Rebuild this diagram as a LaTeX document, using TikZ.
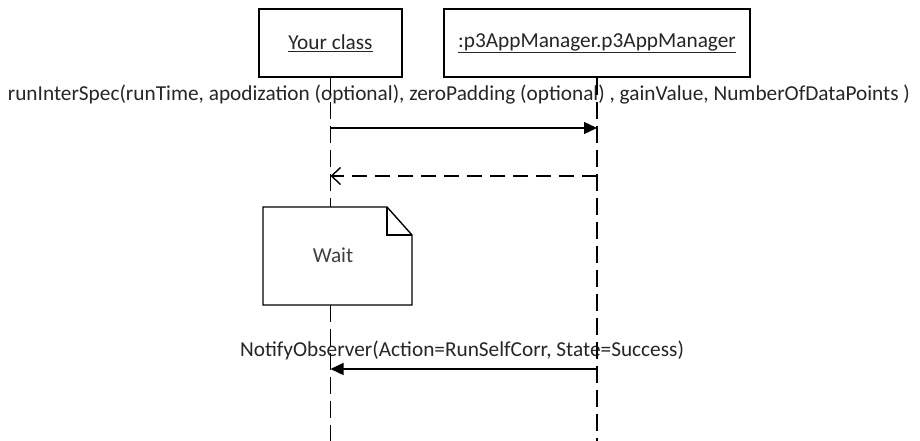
\documentclass[tikz,border=0pt]{standalone}
\usepackage{fontspec}
\setmainfont{Carlito}
\usetikzlibrary{arrows.meta}
\tikzset{
  objbox/.style={draw, line width=1.4pt, minimum width=143pt, minimum height=68pt, inner sep=0pt},
  lifeline/.style={line width=1.6pt, dash pattern=on 17pt off 7pt},
  callmsg/.style={line width=1.4pt, -{Triangle[length=13pt,width=12pt]}},
  retmsg/.style={line width=1.4pt, dash pattern=on 15pt off 8pt, -{Straight Barb[length=9pt,width=17pt,line width=1.4pt]}},
  msglabel/.style={text=black!85, inner sep=0pt},
  notebox/.style={line width=1.4pt, fill=white}
}
\begin{document}
\begin{tikzpicture}[x=1pt,y=-1pt, font=\fontsize{21.3}{25}\selectfont]
\useasboundingbox (0,0) rectangle (920,441);
\fill[white] (0,0) rectangle (920,441);
% objects
\node[objbox] (yc) at (330.5,43) {\textcolor{black!85}{\underline{Your class}}};
\node[objbox, minimum width=306pt] (pm) at (597,43) {\textcolor{black!85}{\underline{:p3AppManager.p3AppManager}}};
% lifeline end points
\coordinate (ycend) at (yc.south |- 0,441);
\coordinate (pmend) at (pm.south |- 0,441);
% note
\coordinate (n1) at (263,207);
\coordinate (n2) at (387,207);
\coordinate (n3) at (412,235);
\coordinate (n4) at (412,305);
\coordinate (n5) at (263,305);
\coordinate (nf) at (387,235);
\coordinate (ntop) at (yc.south |- 0,207);
\coordinate (nbot) at (yc.south |- 0,305);
% message labels
\node[msglabel] (m1) at (459,95) {runInterSpec(runTime, apodization (optional), zeroPadding (optional) , gainValue, NumberOfDataPoints )};
\node[msglabel] (m3) at (462,350) {NotifyObserver(Action=RunSelfCorr, State=Success)};
% lifelines
\draw[lifeline] (yc.south) -- (ntop);
\draw[lifeline] (nbot) -- (ycend);
\draw[lifeline] (pm.south) -- (pmend);
% note shape
\draw[notebox] (n1) -- (n2) -- (n3) -- (n4) -- (n5) -- cycle;
\draw[line width=1.4pt] (n2) -- (nf) -- (n3);
\node[text=black!75, inner sep=0pt] (wait) at (333,255) {Wait};
% messages
\coordinate (a1s) at (yc.south |- 0,128);
\coordinate (a1e) at (pm.south |- 0,128);
\draw[callmsg] (a1s) -- (a1e);
\coordinate (a2s) at (pm.south |- 0,176);
\coordinate (a2e) at (yc.south |- 0,176);
\draw[retmsg] (a2s) -- (a2e);
\coordinate (a3s) at (pm.south |- 0,369);
\coordinate (a3e) at (yc.south |- 0,369);
\draw[callmsg] (a3s) -- (a3e);
\end{tikzpicture}
\end{document}
